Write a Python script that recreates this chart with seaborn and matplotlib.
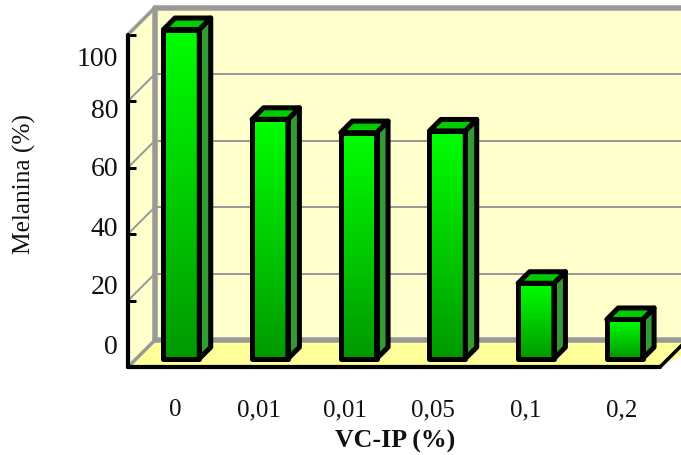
import matplotlib
matplotlib.use("Agg")
import matplotlib.pyplot as plt
import numpy as np
import pandas as pd
import seaborn as sns
from matplotlib.patches import Polygon
from matplotlib.transforms import Affine2D

categories = ["0", "0,01", "0,01 ", "0,05", "0,1", "0,2"]
melanina = [99, 72, 68, 68.5, 22.7, 11.8]
value_ticks = [0, 20, 40, 60, 80, 100]

W, H = 681, 455
sns.set_theme(style="white")
plt.rcParams["font.family"] = ["Liberation Serif", "DejaVu Serif"]

fig = plt.figure(figsize=(W / 100, H / 100), dpi=100, facecolor="white")
ax = fig.add_axes([128 / W, 1 - 367 / H, (660 - 128) / W, (367 - 34.5) / H])
ax.patch.set_visible(False)

px = Affine2D().scale(1, -1).translate(0, H)   # top-down pixel coordinates
PT = 0.72                                      # points per pixel
GRAY = "#999999"
DEPTH = 27
BAR_DEPTH = 11.5
EDGE = 5.0


def poly(points, z, **kw):
    fig_poly = Polygon(points, closed=True, transform=px, clip_on=False, zorder=z, **kw)
    ax.add_patch(fig_poly)
    return fig_poly


def seg(xs, ys, color, width, z=1.5):
    ax.plot(xs, ys, color=color, lw=width * PT, transform=px, clip_on=False,
            zorder=z, solid_capstyle="round")


frame = pd.DataFrame({"dose": categories, "melanina": melanina})
sns.barplot(data=frame, x="dose", y="melanina", ax=ax, width=0.404,
            fill=True, color="white", edgecolor="black", linewidth=EDGE * PT, saturation=1)
ax.set_xlim(-0.5, 5.5)
ax.set_ylim(0, 100)
fig.canvas.draw()

# Back wall, left wall and floor
back_top, back_bottom = 367 - DEPTH - 332.5 + 0.0, 367 - DEPTH
left = 128
poly([(left + DEPTH, back_top), (W + 5, back_top), (W + 5, back_bottom), (left + DEPTH, back_bottom)],
     0.5, facecolor="#FFFFCC", edgecolor="none")
poly([(left, 367), (left + DEPTH, back_bottom), (left + DEPTH, back_top), (left, 34.5)],
     0.5, facecolor="#FFFFCC", edgecolor="none")
poly([(left, 367), (left + DEPTH, back_bottom), (W + 30, back_bottom), (660, 367)],
     0.6, facecolor="#FFFF99", edgecolor="none")

# Gridlines run along the back wall and down the left wall
for v in value_ticks:
    _, y_disp = ax.transData.transform((0, v))
    y = H - y_disp
    is_edge = v in (0, 100)
    seg([left, left + DEPTH], [y, y - DEPTH], GRAY, 3.5 if is_edge else 2)
    seg([left + DEPTH, W + 5], [y - DEPTH, y - DEPTH], GRAY, 5.5 if is_edge else 2)
seg([left + DEPTH] * 2, [back_top, back_bottom], GRAY, 5.5)
seg([660, 690], [367, 337], "black", 3.5, z=3)

# Bars: gradient front, darker side, brighter top
gradient = np.linspace(0, 1, 128)[:, None]
cmap = matplotlib.colors.LinearSegmentedColormap.from_list("bar", ["#00FF00", "#009900"])
shift = Affine2D().translate(9, 8.3)
for bar in ax.patches:
    if not isinstance(bar, matplotlib.patches.Rectangle):
        continue
    if bar.get_height() == 0:
        continue
    x0, w, h = bar.get_x(), bar.get_width(), bar.get_height()
    bar.set_transform(ax.transData + shift)
    bar.set_facecolor("none")
    bar.set_clip_on(False)
    bar.set_zorder(4)
    bar.set_joinstyle("round")
    image = ax.imshow(gradient, extent=(x0, x0 + w, 0, h), aspect="auto", cmap=cmap,
                      transform=ax.transData + shift, zorder=3, clip_on=False, origin="upper")
    (l, b), (r, t) = (ax.transData + shift).transform([(x0, 0), (x0 + w, h)])
    l, r, t, b = l, r, H - t, H - b
    d = BAR_DEPTH
    poly([(r, b), (r + d, b - d), (r + d, t - d), (r, t)], 3.5,
         facecolor="#339933", edgecolor="black", lw=EDGE * PT, joinstyle="round")
    poly([(l, t), (l + d, t - d), (r + d, t - d), (r, t)], 3.5,
         facecolor="#00CC00", edgecolor="black", lw=EDGE * PT, joinstyle="round")
ax.set_xlim(-0.5, 5.5)
ax.set_ylim(0, 100)

# Front axes
sns.despine(ax=ax)
for name in ("left", "bottom"):
    ax.spines[name].set_linewidth(4.2 * PT)
    ax.spines[name].set_color("black")
    ax.spines[name].set_zorder(5)
    ax.spines[name].set_capstyle("round")
ax.set_xticks(np.arange(0.5, 6))
ax.set_xticklabels([])
ax.set_yticks(value_ticks)
ax.set_yticklabels([])
ax.tick_params(axis="both", direction="in", length=5 * PT + 2, width=3 * PT, color="black",
               bottom=True, left=True)
ax.set_xlabel("")
ax.set_ylabel("")

# Text
value_label_y = [347, 288, 229, 170, 112, 59]
for v, y in zip(value_ticks, value_label_y):
    ax.text(118, y, str(v), transform=px, ha="right", va="center", fontsize=20, color="#111111", clip_on=False)
cat_label_x = [175, 259, 345, 433, 526, 622]
for name, x in zip(categories, cat_label_x):
    ax.text(x, 410, name.strip(), transform=px, ha="center", va="center", fontsize=18, color="#111111", clip_on=False)
ax.text(395, 441, "VC-IP (%)", transform=px, ha="center", va="center", fontsize=18.6,
        fontweight="bold", color="#111111", clip_on=False)
ax.text(24, 184, "Melanina (%)", transform=px, ha="center", va="center", rotation=90,
        fontsize=18.3, color="#111111", clip_on=False)

fig.savefig("out.png", dpi=100)
